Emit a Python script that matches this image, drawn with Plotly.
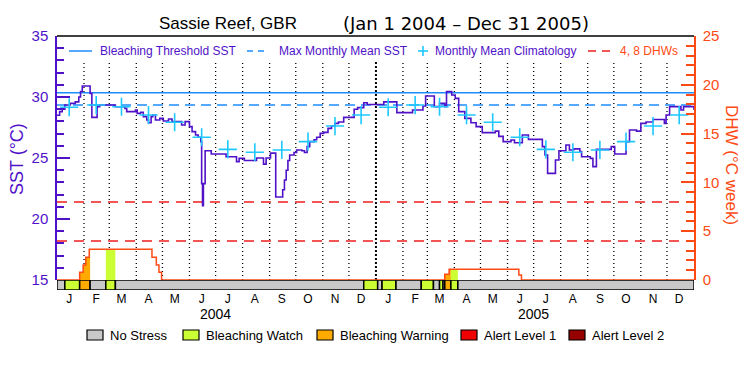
import pandas as pd
import plotly.graph_objects as go

# ---------------- data ----------------
title_site = "Sassie Reef, GBR"
title_period = "(Jan 1 2004 – Dec 31 2005)"

sst_dates = [
    "2004-01-01", "2004-01-04", "2004-01-07", "2004-01-10", "2004-01-16", "2004-01-22",
    "2004-01-26", "2004-01-28", "2004-01-30", "2004-02-08", "2004-02-10", "2004-02-16",
    "2004-02-19", "2004-03-08", "2004-03-19", "2004-03-21", "2004-03-31", "2004-04-02",
    "2004-04-06", "2004-04-09", "2004-04-13", "2004-04-15", "2004-04-18", "2004-04-20",
    "2004-04-23", "2004-04-28", "2004-05-02", "2004-05-08", "2004-05-12", "2004-05-23",
    "2004-05-27", "2004-06-01", "2004-06-04", "2004-06-08", "2004-06-11", "2004-06-14",
    "2004-06-15", "2004-06-16", "2004-06-17", "2004-06-19", "2004-06-26", "2004-07-13",
    "2004-07-25", "2004-07-28", "2004-08-03", "2004-08-17", "2004-08-25", "2004-08-28",
    "2004-09-02", "2004-09-08", "2004-09-16", "2004-09-18", "2004-09-20", "2004-09-22",
    "2004-09-24", "2004-09-29", "2004-10-02", "2004-10-08", "2004-10-11", "2004-10-14",
    "2004-10-17", "2004-10-22", "2004-10-25", "2004-10-29", "2004-11-02", "2004-11-07",
    "2004-11-11", "2004-11-15", "2004-11-19", "2004-11-25", "2004-12-07", "2004-12-11",
    "2004-12-18", "2004-12-22", "2005-01-10", "2005-01-25", "2005-02-12", "2005-02-24",
    "2005-02-27", "2005-03-09", "2005-03-15", "2005-03-21", "2005-03-23", "2005-03-29",
    "2005-04-02", "2005-04-06", "2005-04-13", "2005-04-20", "2005-04-26", "2005-05-03",
    "2005-05-18", "2005-05-22", "2005-05-27", "2005-06-05", "2005-06-09", "2005-06-18",
    "2005-06-25", "2005-07-11", "2005-07-14", "2005-07-17", "2005-07-26", "2005-07-30",
    "2005-08-07", "2005-08-11", "2005-08-16", "2005-08-23", "2005-08-25", "2005-09-04",
    "2005-09-07", "2005-09-11", "2005-09-28", "2005-10-02", "2005-10-15", "2005-10-19",
    "2005-10-27", "2005-11-01", "2005-11-07", "2005-11-15", "2005-11-28", "2005-11-30",
    "2005-12-04", "2005-12-17", "2005-12-20", "2006-01-01",
]
sst_values = [
    28.50, 28.80, 28.99, 29.34, 29.48, 29.60,
    30.00, 30.45, 30.90, 30.30, 28.33, 29.20,
    29.34, 29.20, 29.07, 28.80, 28.93, 28.66,
    28.75, 28.39, 28.11, 27.89, 28.39, 28.52,
    28.11, 28.25, 28.03, 28.20, 27.98, 27.70,
    27.98, 27.57, 27.16, 26.89, 26.70, 26.34,
    22.90, 21.10, 22.90, 25.60, 25.33, 25.10,
    24.70, 24.97, 24.80, 25.00, 24.50, 25.00,
    25.40, 21.80, 22.40, 23.20, 24.00, 24.80,
    25.25, 25.45, 25.66, 25.60, 25.45, 25.93,
    26.34, 26.50, 26.70, 27.02, 27.10, 27.43,
    27.62, 27.84, 27.95, 28.33, 28.99, 29.13,
    29.53, 29.39, 29.60, 28.72, 28.93, 29.26,
    30.08, 29.21, 29.48, 29.21, 30.44, 30.16,
    29.89, 28.80, 28.25, 27.89, 27.57, 27.08,
    27.20, 26.77, 26.34, 26.48, 26.25, 26.89,
    26.53, 25.93, 25.25, 23.74, 24.84, 25.60,
    26.07, 25.66, 25.75, 25.52, 25.10, 24.97,
    24.29, 25.71, 25.93, 25.33, 26.34, 27.30,
    27.20, 27.84, 27.95, 28.16, 27.84, 28.52,
    29.21, 28.93, 29.21, 28.93,
]

clim_values = [29.16, 29.34, 29.20, 28.52, 27.93, 26.70, 25.71, 25.47, 25.66, 26.34, 27.62, 28.52]
mmm_sst = 29.34
bleaching_threshold = 30.34
dhw_levels = [4, 8]

dhw_dates = ["2004-01-01", "2004-01-27", "2004-01-31", "2004-02-03", "2004-02-07",
             "2004-04-19", "2004-04-24", "2004-04-27", "2004-04-30",
             "2005-03-21", "2005-03-26", "2005-06-14", "2005-06-17", "2006-01-01"]
dhw_values = [0, 0.79, 1.54, 2.32, 3.14, 2.32, 1.54, 0.79, 0, 0.58, 1.09, 0.51, 0, 0]

stress_starts = ["2004-01-01", "2004-01-10", "2004-01-27", "2004-02-08", "2004-02-26", "2004-03-08",
                 "2004-12-18", "2005-01-03", "2005-01-08", "2005-01-24", "2005-02-22", "2005-03-08",
                 "2005-03-15", "2005-03-19", "2005-03-21", "2005-03-28", "2005-04-05"]
stress_ends = stress_starts[1:] + ["2006-01-01"]
stress_levels = [0, 1, 2, 0, 1, 0, 1, 0, 1, 0, 1, 0, 1, 0, 2, 1, 0]

stress_names = ["No Stress", "Bleaching Watch", "Bleaching Warning", "Alert Level 1", "Alert Level 2"]
stress_colors = ["#C8C8C8", "#CCFF33", "#FFAA00", "#F00000", "#960000"]

month_letters = ["J", "F", "M", "A", "M", "J", "J", "A", "S", "O", "N", "D"]
years = ["2004", "2005"]

# ---------------- styles ----------------
FONT = "Liberation Sans"
FONT2 = "DejaVu Sans"
PURPLE = "#5012C8"
BLUE = "#1E8CFF"
CYAN = "#1EC8FF"
ORANGE = "#FF4A14"
RED = "#F01E1E"

OFF = 8                                 # page body margin of the html
FIG_W, FIG_H = 750 - OFF, 375 - OFF
L, R, T, B = 57, 694, 36, 290          # plot area in screen pixels
BAR_H = 10
GRID_TOP = 62


def px(x):
    return (x - L) / (R - L)


def py(y):
    return (B - y) / (B - T)


fig = go.Figure()

# fills under DHW for stressed periods
dhw = pd.Series(dhw_values, index=pd.to_datetime(dhw_dates))
days = pd.date_range("2004-01-01", "2006-01-01", freq="D")
dhw_daily = dhw.reindex(days.union(dhw.index)).ffill()
for s, e, lv in zip(stress_starts, stress_ends, stress_levels):
    if lv == 0:
        continue
    seg = dhw_daily[pd.Timestamp(s):pd.Timestamp(e)]
    fig.add_trace(go.Scatter(x=seg.index, y=seg.values, yaxis="y2", mode="lines",
                             line=dict(width=0, shape="hv"), fill="tozeroy",
                             fillcolor=stress_colors[lv], showlegend=False, hoverinfo="skip"))

# DHW line
fig.add_trace(go.Scatter(x=dhw_dates, y=dhw_values, yaxis="y2", mode="lines",
                         line=dict(color=ORANGE, width=1.5, shape="hv"), showlegend=False))

# SST line
fig.add_trace(go.Scatter(x=sst_dates, y=sst_values, mode="lines",
                         line=dict(color=PURPLE, width=1.6, shape="hv"), showlegend=False))

# Monthly climatology
clim_x = pd.date_range("2004-01-01", periods=24, freq="MS") + pd.Timedelta(days=14)
fig.add_trace(go.Scatter(x=clim_x, y=clim_values * 2, mode="markers",
                         marker=dict(symbol="cross-thin", size=13, line=dict(color=CYAN, width=1.6)),
                         showlegend=False))

shapes = []
# threshold lines
shapes.append(dict(type="line", xref="paper", x0=0, x1=1, yref="y", y0=bleaching_threshold,
                   y1=bleaching_threshold, line=dict(color=BLUE, width=1.5), layer="below"))
shapes.append(dict(type="line", xref="paper", x0=0, x1=1, yref="y", y0=mmm_sst, y1=mmm_sst,
                   line=dict(color=BLUE, width=1.5, dash="10px,6px"), layer="below"))
for lv in dhw_levels:
    shapes.append(dict(type="line", xref="paper", x0=0, x1=1, yref="y2", y0=lv, y1=lv,
                       line=dict(color=RED, width=1.5, dash="10px,7px"), layer="below"))

# month separators
grid_top = (B - BAR_H - GRID_TOP) / (B - BAR_H - T)
for d in pd.date_range("2004-02-01", "2005-12-01", freq="MS"):
    yearline = d.month == 1
    shapes.append(dict(type="line", xref="x", x0=d, x1=d, yref="y domain", y0=0, y1=grid_top,
                       line=dict(color="black", width=2 if yearline else 1.3,
                                 dash="2px,2px" if yearline else "1px,3px"), layer="below"))

# stress bar
for s, e, lv in zip(stress_starts, stress_ends, stress_levels):
    shapes.append(dict(type="rect", xref="x", x0=s, x1=e, yref="y3", y0=0, y1=1,
                       fillcolor=stress_colors[lv], line=dict(color="black", width=1.5)))

# top border
shapes.append(dict(type="line", xref="paper", x0=0, x1=1, yref="paper", y0=1, y1=1,
                   line=dict(color="black", width=1.5)))

annotations = []
# title
annotations.append(dict(text=title_site, x=px(157), y=py(23), xref="paper", yref="paper",
                        xanchor="left", yanchor="middle", showarrow=False,
                        font=dict(family=FONT, size=17, color="black")))
annotations.append(dict(text=title_period, x=px(341), y=py(23), xref="paper", yref="paper",
                        xanchor="left", yanchor="middle", showarrow=False,
                        font=dict(family=FONT2, size=18, color="black")))

# top legend
LY = 51
shapes.append(dict(type="line", xref="paper", yref="paper", x0=px(69), x1=px(92), y0=py(LY), y1=py(LY),
                   line=dict(color=BLUE, width=1.5)))
shapes.append(dict(type="line", xref="paper", yref="paper", x0=px(247), x1=px(268), y0=py(LY), y1=py(LY),
                   line=dict(color=BLUE, width=1.5, dash="6px,5px")))
shapes.append(dict(type="line", xref="paper", yref="paper", x0=px(418), x1=px(428), y0=py(LY), y1=py(LY),
                   line=dict(color=CYAN, width=1.6)))
shapes.append(dict(type="line", xref="paper", yref="paper", x0=px(423), x1=px(423), y0=py(LY - 5), y1=py(LY + 5),
                   line=dict(color=CYAN, width=1.6)))
shapes.append(dict(type="line", xref="paper", yref="paper", x0=px(588), x1=px(612), y0=py(LY), y1=py(LY),
                   line=dict(color=RED, width=1.5, dash="8px,6px")))
for txt, x, col in [("Bleaching Threshold SST", 98, PURPLE), ("Max Monthly Mean SST", 277, PURPLE),
                    ("Monthly Mean Climatology", 433, PURPLE), ("4, 8 DHWs", 618, ORANGE)]:
    annotations.append(dict(text=txt, x=px(x), y=py(LY), xref="paper", yref="paper", xanchor="left",
                            yanchor="middle", showarrow=False, font=dict(family=FONT, size=12, color=col)))

# bottom legend
box_x = [87, 183, 317, 461, 569]
for name, col, bx in zip(stress_names, stress_colors, box_x):
    shapes.append(dict(type="rect", xref="paper", yref="paper", x0=px(bx), x1=px(bx + 16),
                       y0=py(340), y1=py(330), fillcolor=col, line=dict(color="black", width=1.2)))
    annotations.append(dict(text=name, x=px(bx + 21), y=py(335), xref="paper", yref="paper",
                            xanchor="left", yanchor="middle", showarrow=False,
                            font=dict(family=FONT, size=13, color="black")))

# years
for yr in years:
    annotations.append(dict(text=yr, x=f"{yr}-07-01", y=py(314), xref="x", yref="paper",
                            xanchor="center", yanchor="middle", showarrow=False,
                            font=dict(family=FONT, size=14, color="black")))

# axis titles
annotations.append(dict(text="SST (°C)", x=px(17), y=py(159), xref="paper", yref="paper",
                        textangle=-90, showarrow=False, xanchor="center", yanchor="middle",
                        font=dict(family=FONT, size=18, color=PURPLE)))
annotations.append(dict(text="DHW (°C week)", x=px(732), y=py(165), xref="paper", yref="paper",
                        textangle=90, showarrow=False, xanchor="center", yanchor="middle",
                        font=dict(family=FONT, size=17, color=ORANGE)))

month_ticks = pd.date_range("2004-01-01", periods=24, freq="MS") + pd.Timedelta(days=14)

fig.update_layout(
    width=FIG_W, height=FIG_H,
    margin=dict(l=L - OFF, r=FIG_W - (R - OFF), t=T - OFF, b=FIG_H - (B - OFF), autoexpand=False),
    paper_bgcolor="white", plot_bgcolor="white",
    showlegend=False,
    shapes=shapes, annotations=annotations,
    xaxis=dict(range=["2004-01-01", "2006-01-01"], anchor="y3", showgrid=False, zeroline=False,
               showline=False, tickmode="array", tickvals=month_ticks, ticktext=month_letters * 2,
               ticks="", automargin=False, tickfont=dict(family=FONT, size=12, color="black")),
    yaxis=dict(domain=[BAR_H / (B - T), 1], range=[15, 35], anchor="x", tickmode="array",
               tickvals=[15, 20, 25, 30, 35], showgrid=False, zeroline=False, automargin=False,
               showline=True, linecolor=PURPLE, linewidth=1.5,
               ticks="inside", ticklen=13, tickwidth=1.5, tickcolor=PURPLE,
               minor=dict(ticks="inside", ticklen=7, dtick=1, tick0=15, tickwidth=1.5, tickcolor=PURPLE,
                          showgrid=False),
               tickfont=dict(family=FONT, size=15, color=PURPLE), ticklabelstandoff=4),
    yaxis2=dict(overlaying="y", side="right", anchor="x", range=[0, 25], tickmode="array",
                tickvals=[0, 5, 10, 15, 20, 25], showgrid=False, zeroline=False, automargin=False,
                showline=True, linecolor=ORANGE, linewidth=1.5,
                ticks="inside", ticklen=13, tickwidth=1.5, tickcolor=ORANGE,
                minor=dict(ticks="inside", ticklen=8, dtick=1, tick0=0, tickwidth=1.5, tickcolor=ORANGE,
                           showgrid=False),
                tickfont=dict(family=FONT, size=15, color=ORANGE), ticklabelstandoff=4),
    yaxis3=dict(domain=[0, BAR_H / (B - T)], range=[0, 1], anchor="x", visible=False),
)

fig.write_html("out.html")
